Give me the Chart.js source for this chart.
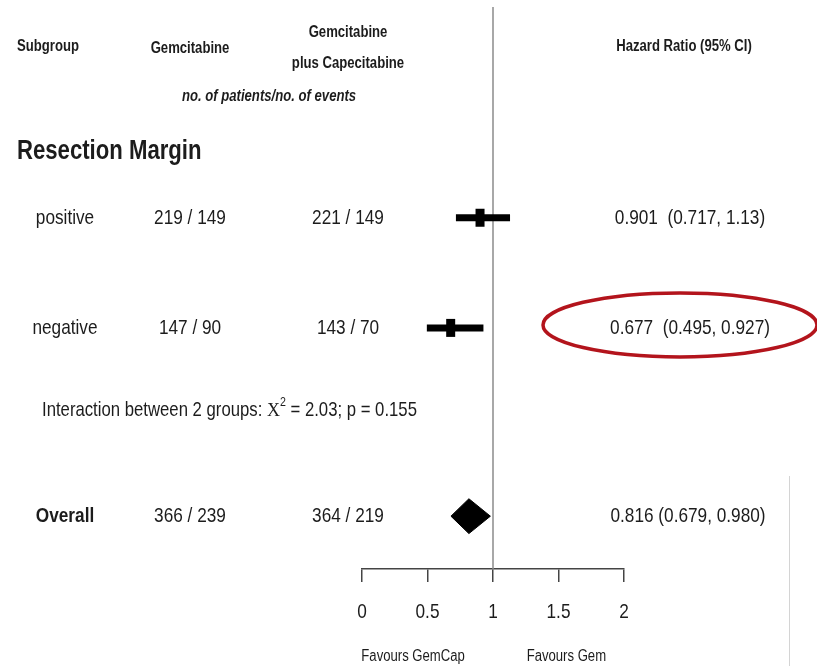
<!DOCTYPE html>
<html>
<head>
<meta charset="utf-8">
<script src="https://cdn.jsdelivr.net/npm/chart.js@4.4.1/dist/chart.umd.min.js"></script>
<style>
  html, body { margin: 0; padding: 0; background: #fff; }
  canvas { display: block; }
</style>
</head>
<body>
<canvas id="forest" width="817" height="666"></canvas>
<script>
// ---- Subgroup rows (resection margin) ----
const subgroups    = ['positive', 'negative'];
const gemCounts    = ['219 / 149', '147 / 90'];
const gemCapCounts = ['221 / 149', '143 / 70'];
const hazardRatio  = [0.901, 0.677];
const ciLower      = [0.717, 0.495];
const ciUpper      = [1.13, 0.927];
const hrLabels     = ['0.901  (0.717, 1.13)', '0.677  (0.495, 0.927)'];

// ---- Overall estimate ----
const overallName   = 'Overall';
const overallGem    = '366 / 239';
const overallGemCap = '364 / 219';
const overallHR     = 0.816;
const overallLower  = 0.679;
const overallUpper  = 0.980;
const overallText   = '0.816 (0.679, 0.980)';

// ---- Axis and text ----
const tickValues   = [0, 0.5, 1, 1.5, 2];
const tickLabels   = ['0', '0.5', '1', '1.5', '2'];
const favourLabels = ['Favours GemCap', 'Favours Gem'];
const favourAt     = [0.39, 1.56];
const groupTitle   = 'Resection Margin';
const interactionParts = ['Interaction between 2 groups: ', 'X', '2', ' = 2.03; p = 0.155'];

// Vertical layout in y-scale units (0 = top of plot, 100 = axis line)
const rowY = {
  colTop: 4.6, header: 7.1, colBottom: 10.0, units: 16.0,
  group: 25.8, rows: [37.5, 57.1], interaction: 71.7, overall: 90.6
};
const diamondHalf = 3.1;
// Horizontal text columns (canvas px)
const col = { left: 17, label: 65, gem: 190, gemCap: 348, units: 269, hr: 690, hrOverall: 688, interaction: 42 };

// ---- Font helpers (condensed look) ----
const probe = document.createElement('canvas').getContext('2d');
probe.font = '20px "Liberation Sans Narrow", monospace';
const wNarrow = probe.measureText('positive negative').width;
probe.font = '20px monospace';
const wMono = probe.measureText('positive negative').width;
const hasNarrow = Math.abs(wNarrow - wMono) > 0.5;
const FAMILY = hasNarrow ? '"Liberation Sans Narrow"' : '"Liberation Sans", Arial, sans-serif';
const SQUEEZE = hasNarrow ? 1 : 0.82;

function fontStr(size, o) {
  return (o.italic ? 'italic ' : '') + (o.bold ? 'bold ' : '') + size + 'px ' + (o.family || FAMILY);
}
function measure(ctx, text, size, o = {}) {
  ctx.save();
  ctx.font = fontStr(size, o);
  const w = ctx.measureText(text).width * (o.family ? 1 : SQUEEZE);
  ctx.restore();
  return w;
}
function label(ctx, text, x, y, size, o = {}) {
  ctx.save();
  ctx.font = fontStr(size, o);
  ctx.fillStyle = o.color || '#1c1c1c';
  ctx.textBaseline = 'middle';
  ctx.textAlign = o.align || 'left';
  ctx.translate(x, y);
  ctx.scale(o.family ? 1 : SQUEEZE, 1);
  ctx.fillText(text, 0, 0);
  ctx.restore();
}

// ---- Text columns, axis labels, annotation ring ----
const tablePlugin = {
  id: 'forestTable',
  afterDraw(chart) {
    const ctx = chart.ctx;
    const ys = chart.scales.y, xs = chart.scales.x;
    const py = v => ys.getPixelForValue(v);

    // headers
    label(ctx, 'Subgroup', col.left, py(rowY.header), 16, { bold: true });
    label(ctx, 'Gemcitabine', col.gem, py(rowY.header) + 2, 16, { bold: true, align: 'center' });
    label(ctx, 'Gemcitabine', col.gemCap, py(rowY.colTop), 16, { bold: true, align: 'center' });
    label(ctx, 'plus Capecitabine', col.gemCap, py(rowY.colBottom), 16, { bold: true, align: 'center' });
    label(ctx, 'no. of patients/no. of events', col.units, py(rowY.units), 16, { bold: true, italic: true, align: 'center' });
    label(ctx, 'Hazard Ratio (95% CI)', 684, py(rowY.header), 16, { bold: true, align: 'center' });

    label(ctx, groupTitle, col.left, py(rowY.group), 27, { bold: true });

    subgroups.forEach((name, i) => {
      const y = py(rowY.rows[i]);
      label(ctx, name, col.label, y, 21, { align: 'center' });
      label(ctx, gemCounts[i], col.gem, y, 21, { align: 'center' });
      label(ctx, gemCapCounts[i], col.gemCap, y, 21, { align: 'center' });
      label(ctx, hrLabels[i], col.hr, y, 21, { align: 'center' });
    });

    // interaction test line
    let x = col.interaction;
    const yi = py(rowY.interaction);
    label(ctx, interactionParts[0], x, yi, 20.4);
    x += measure(ctx, interactionParts[0], 20.4);
    const serif = { family: '"Liberation Serif", serif' };
    label(ctx, interactionParts[1], x, yi + 1, 18, serif);
    x += measure(ctx, interactionParts[1], 18, serif);
    label(ctx, interactionParts[2], x, yi - 8, 13);
    x += measure(ctx, interactionParts[2], 13);
    label(ctx, interactionParts[3], x, yi, 20.4);

    const yo = py(rowY.overall);
    label(ctx, overallName, col.label, yo, 21, { bold: true, align: 'center' });
    label(ctx, overallGem, col.gem, yo, 21, { align: 'center' });
    label(ctx, overallGemCap, col.gemCap, yo, 21, { align: 'center' });
    label(ctx, overallText, col.hrOverall, yo, 21, { align: 'center' });

    // x tick labels
    tickValues.forEach((v, i) => {
      label(ctx, tickLabels[i], xs.getPixelForValue(v), 612, 21, { align: 'center' });
    });

    // axis captions
    favourLabels.forEach((t, i) => {
      label(ctx, t, xs.getPixelForValue(favourAt[i]), 657, 16, { align: 'center' });
    });

    // red ring around the negative-margin estimate
    ctx.save();
    ctx.strokeStyle = '#b3141c';
    ctx.lineWidth = 3.5;
    ctx.beginPath();
    ctx.ellipse(680, py(rowY.rows[1]) - 3, 137, 32, 0, 0, Math.PI * 2);
    ctx.stroke();
    ctx.restore();

    // faint scan edge on the right
    ctx.save();
    ctx.strokeStyle = '#d4d4d4';
    ctx.lineWidth = 1;
    ctx.beginPath();
    ctx.moveTo(789.5, 476);
    ctx.lineTo(789.5, 666);
    ctx.stroke();
    ctx.restore();
  }
};

// ---- Datasets ----
const datasets = [];

// point estimates: tall black boxes
datasets.push({
  data: hazardRatio.map((v, i) => ({ x: v, y: rowY.rows[i] })),
  pointStyle: 'line', pointRotation: 90, pointRadius: 9,
  pointBorderWidth: 9, pointBorderColor: '#000', pointBackgroundColor: '#000',
  showLine: false
});

// confidence intervals
subgroups.forEach((_, i) => {
  datasets.push({
    data: [{ x: ciLower[i], y: rowY.rows[i] }, { x: ciUpper[i], y: rowY.rows[i] }],
    showLine: true, borderColor: '#000', borderWidth: 7, borderCapStyle: 'butt',
    pointRadius: 0
  });
});

// overall diamond
datasets.push({
  data: [
    { x: overallLower, y: rowY.overall },
    { x: overallHR, y: rowY.overall - diamondHalf },
    { x: overallUpper, y: rowY.overall },
    { x: overallHR, y: rowY.overall + diamondHalf },
    { x: overallLower, y: rowY.overall }
  ],
  showLine: true, fill: 'shape', backgroundColor: '#000', borderColor: '#000',
  borderWidth: 1, pointRadius: 0, tension: 0
});

// line of no effect
datasets.push({
  data: [{ x: 1, y: 0 }, { x: 1, y: 100 }],
  showLine: true, borderColor: '#8c8c8c', borderWidth: 1.5, pointRadius: 0
});

new Chart(document.getElementById('forest'), {
  type: 'scatter',
  data: { datasets },
  options: {
    responsive: false,
    animation: false,
    devicePixelRatio: 1,
    layout: { autoPadding: false, padding: { left: 362, right: 193, top: 7, bottom: 0 } },
    plugins: { legend: { display: false }, tooltip: { enabled: false } },
    scales: {
      x: {
        type: 'linear', min: 0, max: 2,
        afterBuildTicks: s => { s.ticks = tickValues.map(v => ({ value: v })); },
        afterFit: s => { s.height = 97; },
        grid: { drawOnChartArea: false, drawTicks: true, tickLength: 13, color: '#444', lineWidth: 1.5 },
        border: { display: true, color: '#444', width: 1.5 },
        ticks: { display: false }
      },
      y: { type: 'linear', reverse: true, min: 0, max: 100, display: false }
    }
  },
  plugins: [tablePlugin]
});
</script>
</body>
</html>
